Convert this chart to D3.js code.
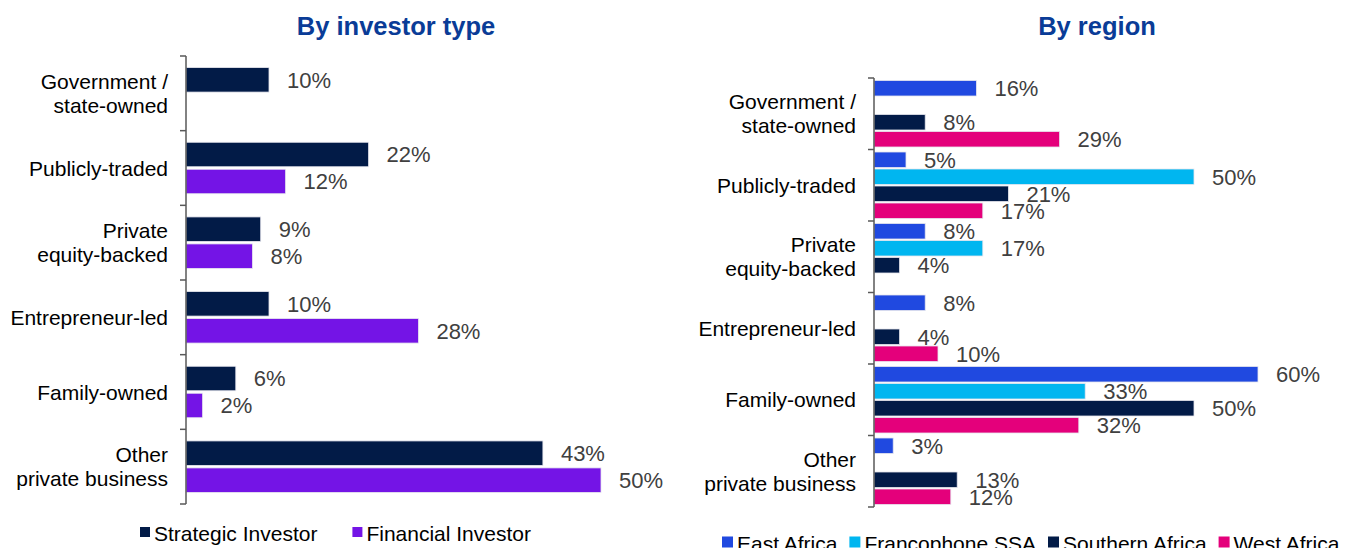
<!DOCTYPE html>
<html>
<head>
<meta charset="utf-8">
<script src="https://cdn.jsdelivr.net/npm/d3@7"></script>
<style>
  html, body { margin: 0; padding: 0; background: #ffffff; }
  svg { display: block; font-family: "Liberation Sans", Arial, sans-serif; }
</style>
</head>
<body>
<svg id="chart" width="1365" height="548"></svg>
<script>
// Ownership categories (shared by both panels)
const categories = [
  "Government /\nstate-owned",
  "Publicly-traded",
  "Private\nequity-backed",
  "Entrepreneur-led",
  "Family-owned",
  "Other\nprivate business"
];

// Panel 1: by investor type (percent)
const investorSeries = ["Strategic Investor", "Financial Investor"];
const strategicValues = [10, 22, 9, 10, 6, 43];
const financialValues = [null, 12, 8, 28, 2, 50];

// Panel 2: by region (percent)
const regionSeries = ["East Africa", "Francophone SSA", "Southern Africa", "West Africa"];
const eastAfricaValues = [16, 5, 8, 8, 60, 3];
const francophoneValues = [null, 50, 17, null, 33, null];
const southernAfricaValues = [8, 21, 4, 4, 50, 13];
const westAfricaValues = [29, 17, null, 10, 32, 12];

const colors = {
  "Strategic Investor": "#021b47",
  "Financial Investor": "#7414e6",
  "East Africa": "#2049e0",
  "Francophone SSA": "#00b6f0",
  "Southern Africa": "#021b47",
  "West Africa": "#e4007b"
};

const svg = d3.select("#chart");

function drawPanel(cfg) {
  const g = svg.append("g");

  // Title
  g.append("text")
    .attr("x", cfg.titleX)
    .attr("y", 35)
    .attr("text-anchor", "middle")
    .attr("font-size", 25.5)
    .attr("font-weight", "bold")
    .attr("fill", "#0a3c97")
    .text(cfg.title);

  const y = d3.scaleBand()
    .domain(categories)
    .range([cfg.top, cfg.bottom])
    .paddingInner(0)
    .paddingOuter(0);

  const yInner = d3.scaleBand()
    .domain(cfg.series)
    .range([0, y.bandwidth()])
    .paddingInner(cfg.innerPad)
    .paddingOuter(cfg.outerPad);

  const x = d3.scaleLinear()
    .domain([0, cfg.xMax])
    .range([cfg.left, cfg.right]);

  // Flatten series x category into records
  const records = [];
  cfg.series.forEach((s, si) => {
    cfg.values[si].forEach((v, ci) => {
      if (v !== null && v !== undefined) {
        records.push({ series: s, category: categories[ci], value: v });
      }
    });
  });

  // Bars
  g.append("g").selectAll("rect")
    .data(records)
    .join("rect")
    .attr("x", x(0))
    .attr("y", d => y(d.category) + yInner(d.series))
    .attr("width", d => x(d.value) - x(0))
    .attr("height", yInner.bandwidth())
    .attr("fill", d => colors[d.series])
    .attr("stroke", "#e6e6ee")
    .attr("stroke-width", 0.8);

  // Value labels
  g.append("g").selectAll("text")
    .data(records)
    .join("text")
    .attr("x", d => x(d.value) + cfg.labelGap)
    .attr("y", d => y(d.category) + yInner(d.series) + yInner.bandwidth() / 2)
    .attr("dy", "0.36em")
    .attr("font-size", 22)
    .attr("fill", "#404040")
    .text(d => d.value + "%");

  // Category axis: vertical line with ticks between categories
  const axis = d3.axisLeft(y).tickSize(0).tickFormat("");
  const ax = g.append("g")
    .attr("transform", `translate(${x(0)},0)`)
    .call(axis);
  ax.select(".domain").remove();
  ax.append("line")
    .attr("x1", 0).attr("x2", 0)
    .attr("y1", cfg.top).attr("y2", cfg.bottom)
    .attr("stroke", "#595959").attr("stroke-width", 1.5);
  const boundaries = categories.map(c => y(c)).concat([cfg.bottom]);
  ax.selectAll("line.boundary")
    .data(boundaries)
    .join("line")
    .attr("class", "boundary")
    .attr("x1", -6).attr("x2", 0)
    .attr("y1", d => d).attr("y2", d => d)
    .attr("stroke", "#595959").attr("stroke-width", 1.5);

  // Category labels
  const lineH = 24;
  g.append("g").selectAll("text")
    .data(categories)
    .join("text")
    .attr("x", cfg.labelX)
    .attr("text-anchor", "end")
    .attr("font-size", 21)
    .attr("fill", "#000000")
    .each(function (c) {
      const lines = c.split("\n");
      const cy = y(c) + y.bandwidth() / 2;
      const t = d3.select(this);
      lines.forEach((ln, i) => {
        t.append("tspan")
          .attr("x", cfg.labelX)
          .attr("y", cy + (i - (lines.length - 1) / 2) * lineH)
          .attr("dy", "0.36em")
          .text(ln);
      });
    });

  // Legend
  const lg = g.append("g");
  let cx = cfg.legendX;
  cfg.series.forEach(s => {
    lg.append("rect")
      .attr("x", cx)
      .attr("y", cfg.legendY - cfg.legendBox / 2 - 1)
      .attr("width", cfg.legendBox)
      .attr("height", cfg.legendBox)
      .attr("fill", colors[s]);
    const t = lg.append("text")
      .attr("x", cx + cfg.legendBox + 4)
      .attr("y", cfg.legendY)
      .attr("dy", "0.36em")
      .attr("font-size", 21)
      .attr("fill", "#000000")
      .text(s);
    cx += cfg.legendBox + 4 + t.node().getComputedTextLength() + cfg.legendGap;
  });
}

drawPanel({
  title: "By investor type",
  titleX: 396,
  series: investorSeries,
  values: [strategicValues, financialValues],
  top: 56, bottom: 504,
  left: 186, right: 601, xMax: 50,
  innerPad: 0.093, outerPad: 0.43,
  labelGap: 18, labelX: 168,
  legendX: 140, legendY: 533, legendBox: 10, legendGap: 35
});

drawPanel({
  title: "By region",
  titleX: 1097,
  series: regionSeries,
  values: [eastAfricaValues, francophoneValues, southernAfricaValues, westAfricaValues],
  top: 78, bottom: 507,
  left: 874, right: 1258, xMax: 60,
  innerPad: 0.088, outerPad: 0.147,
  labelGap: 18, labelX: 856,
  legendX: 722, legendY: 543, legendBox: 11, legendGap: 12
});
</script>
</body>
</html>
